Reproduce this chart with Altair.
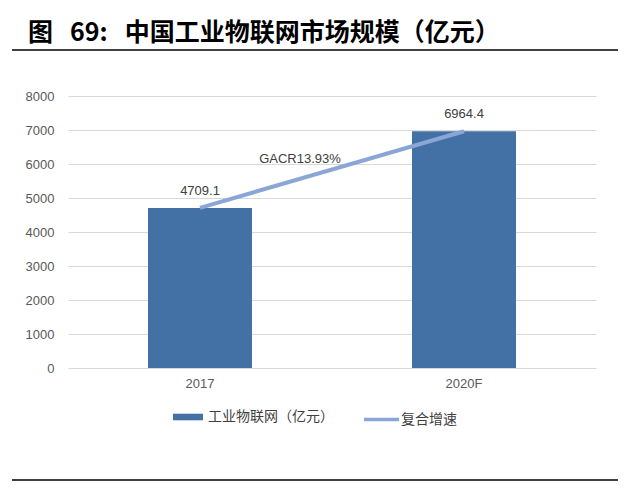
import altair as alt
import pandas as pd

years = ["2017", "2020F"]
values = [4709.1, 6964.4]
bar_name = "工业物联网（亿元）"
line_name = "复合增速"
cagr_text = "GACR13.93%"
title_text = "图\u00a0\u00a0\u00a069:\u00a0\u00a0\u00a0中国工业物联网市场规模（亿元）"
y_ticks = [0, 1000, 2000, 3000, 4000, 5000, 6000, 7000, 8000]

BAR = "#4371A6"
LINE = "#8AA6D6"

df = pd.DataFrame({
    "year": years,
    "value": values,
    "bar": [bar_name] * len(years),
    "line": [line_name] * len(years),
})
one = pd.DataFrame({"t": [title_text], "c": [cagr_text]})

x = alt.X(
    "year:N", sort=years, title=None,
    scale=alt.Scale(paddingInner=0.606, paddingOuter=0.303),
    axis=alt.Axis(labelAngle=0, domain=False, ticks=False, labelPadding=9,
                  labelFontSize=13, labelColor="#595959", labelFont="Liberation Sans"),
)
y = alt.Y(
    "value:Q", title=None,
    scale=alt.Scale(domain=[0, 8000], nice=False),
    axis=alt.Axis(values=y_ticks, format="d", domain=False, ticks=False, labelPadding=14,
                  grid=True, gridColor="#D9D9D9", gridWidth=1,
                  labelFontSize=13, labelColor="#595959", labelFont="Liberation Sans"),
)

bars = alt.Chart(df).mark_bar().encode(
    x=x, y=y,
    color=alt.Color(
        "bar:N",
        scale=alt.Scale(domain=[bar_name], range=[BAR]),
        legend=alt.Legend(title=None, orient="none", legendX=105, legendY=306,
                          symbolType="M-1,-0.22H1V0.22H-1Z", symbolSize=900,
                          symbolStrokeWidth=0, labelFontSize=14,
                          labelFont="Noto Sans CJK SC", labelColor="#404040",
                          labelOffset=5, padding=0),
    ),
)

line = alt.Chart(df).mark_line(strokeWidth=4).encode(
    x=x, y=y,
    stroke=alt.Stroke(
        "line:N",
        scale=alt.Scale(domain=[line_name], range=[LINE]),
        legend=alt.Legend(title=None, orient="none", legendX=294, legendY=304,
                          symbolType="stroke", symbolSize=1225,
                          symbolStrokeWidth=3.5, labelFontSize=14,
                          labelFont="Noto Sans CJK SC", labelColor="#404040",
                          labelOffset=0, padding=0),
    ),
)

labels = alt.Chart(df).mark_text(
    dy=-10, baseline="bottom", fontSize=13, font="Liberation Sans", color="#404040"
).encode(x=x, y=y, text=alt.Text("value:Q", format=".1f"))

cagr = alt.Chart(one).mark_text(
    fontSize=13, font="Liberation Sans", color="#404040", baseline="middle"
).encode(x=alt.value(232), y=alt.value(63), text="c:N")

title = alt.Chart(one).mark_text(
    fontSize=25, font="Noto Sans CJK SC", fontWeight="bold", color="#000000",
    align="left", baseline="middle"
).encode(x=alt.value(-40), y=alt.value(-63), text="t:N")

top_rule = alt.Chart(one).mark_rule(color="#000000", strokeWidth=1.5).encode(
    x=alt.value(-56), x2=alt.value(550), y=alt.value(-46))
bottom_rule = alt.Chart(one).mark_rule(color="#000000", strokeWidth=1.5).encode(
    x=alt.value(-56), x2=alt.value(550), y=alt.value(384))

chart = alt.layer(bars, line, labels, cagr, title, top_rule, bottom_rule).resolve_scale(
    color="independent"
).properties(
    width=528, height=272,
    autosize=alt.AutoSizeParams(type="none"),
    padding={"left": 60, "top": 88, "right": 36, "bottom": 114},
    background="#FFFFFF",
).configure_view(stroke=None)

chart.save("out.html", embed_options={"renderer": "svg", "actions": False})
